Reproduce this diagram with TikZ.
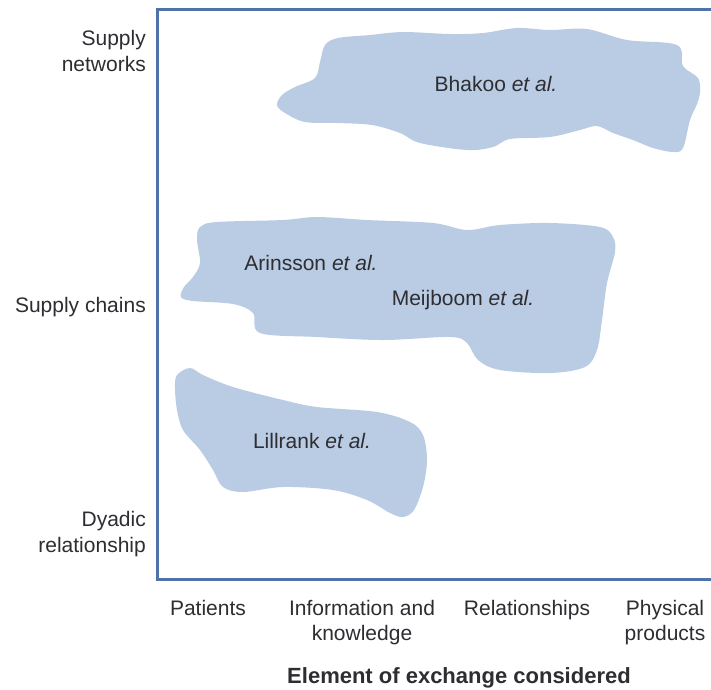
\documentclass[tikz,border=0pt]{standalone}
\usepackage{fontspec}
\setmainfont{Liberation Sans}
\definecolor{blobfill}{RGB}{185,204,228}
\definecolor{framecol}{RGB}{79,115,168}
\definecolor{inkcol}{RGB}{45,45,50}
\begin{document}
\begin{tikzpicture}[x=1pt,y=-1pt,
  blob/.style={fill=blobfill,draw=none},
  lbl/.style={text=inkcol,font=\fontsize{21}{25.5}\selectfont,inner sep=0pt},
  ylbl/.style={lbl,align=right,anchor=east},
  xlbl/.style={lbl,align=center,anchor=north},
  author/.style={lbl,anchor=center},
  ttl/.style={text=inkcol,font=\fontsize{22}{26}\selectfont\bfseries,inner sep=0pt,anchor=center}]
\useasboundingbox (0,0) rectangle (711,689);

% axes frame (open on the right)
\draw[framecol,line width=3pt] (711,9) -- (157,9) -- (157,579) -- (711,579);

% supply networks region
\fill[blob] plot[smooth cycle,tension=0.55] coordinates {
 (277,105) (282,95) (295,87) (315,78) (320,62) (325,45) (338,38)
 (370,35) (403,32) (450,34) (483,33) (517,28) (550,30) (587,29) (627,40)
 (677,45) (683,66) (698,78) (700,92) (697,104) (690,120) (683,148)
 (673,152) (653,148) (633,140) (613,133) (597,126) (580,130) (550,137)
 (510,139) (493,147) (467,150) (420,143) (400,133) (372,125) (338,123)
 (305,122) (285,113)};

% supply chains region
\fill[blob] plot[smooth cycle,tension=0.55] coordinates {
 (197,240) (200,227) (217,222) (283,220) (317,217) (367,220) (433,223)
 (467,230) (500,225) (550,223) (600,227) (613,237) (615,252) (607,283)
 (602,320) (597,350) (585,367) (550,373) (500,370) (478,360) (467,343)
 (450,337) (383,340) (317,337) (260,333) (253,313) (233,304) (193,301)
 (181,297) (184,287) (193,277) (200,263)};

% dyadic region
\fill[blob] plot[smooth cycle,tension=0.55] coordinates {
 (177,375) (190,368) (203,375) (233,387) (283,400) (317,407) (377,412)
 (410,422) (423,435) (427,460) (423,487) (414,510) (403,517) (390,513)
 (367,500) (333,490) (283,487) (243,492) (223,487) (213,470) (200,450)
 (183,430) (177,410) (175,388)};

% study labels
\node[author] (bhakoo)   at (496,84)  {Bhakoo \textit{et al.}};
\node[author] (arinsson) at (311,263) {Arinsson \textit{et al.}};
\node[author] (meijboom) at (463,300) {Meijboom \textit{et al.}};
\node[author] (lillrank) at (312,441) {Lillrank \textit{et al.}};

% vertical axis labels
\node[ylbl] (net)   at (146,51)  {Supply\\networks};
\node[ylbl] (chain) at (146,307) {Supply chains};
\node[ylbl] (dyad)  at (146,534) {Dyadic\\relationship};

% horizontal axis labels
\node[xlbl] (pat) at (208,600) {Patients};
\node[xlbl] (inf) at (362,600) {Information and\\knowledge};
\node[xlbl] (rel) at (527,600) {Relationships};
\node[xlbl] (phy) at (665,600) {Physical\\products};

\node[ttl] (axis) at (459,678) {Element of exchange considered};
\end{tikzpicture}
\end{document}
